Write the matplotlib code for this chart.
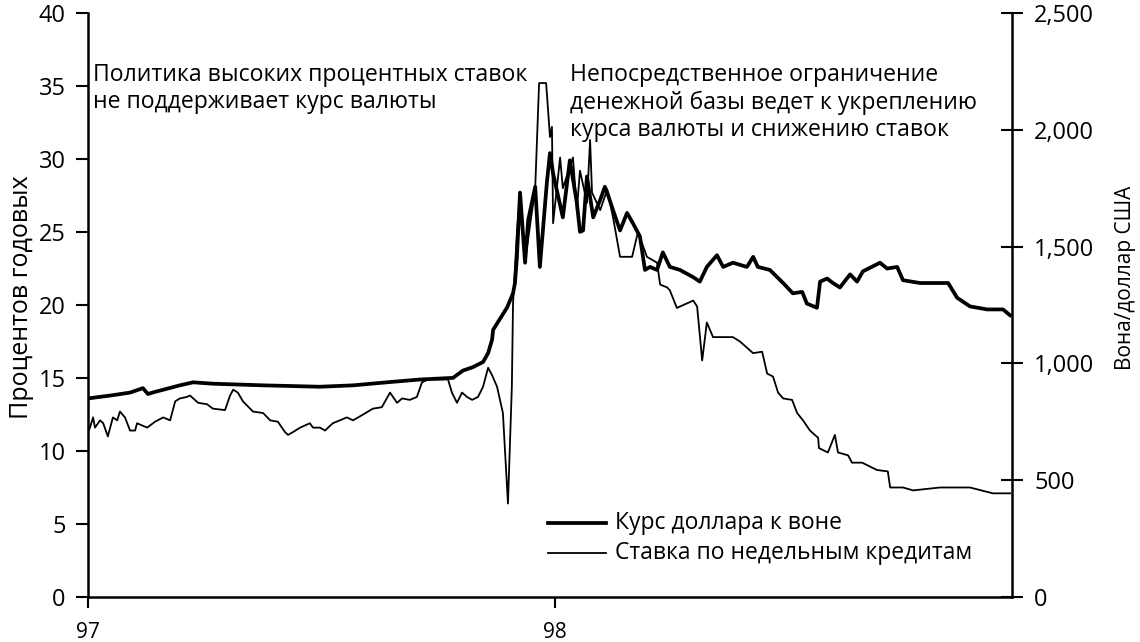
import matplotlib
matplotlib.use("Agg")
import matplotlib.pyplot as plt

plt.rcParams['font.family'] = ['Open Sans', 'DejaVu Sans']

# Months since January 1997
rate_months = [0.00, 0.05, 0.13, 0.18, 0.31, 0.39, 0.51, 0.64, 0.75, 0.82, 0.95, 1.08, 1.21, 1.26,
               1.52, 1.72, 1.93, 2.11, 2.24, 2.36, 2.54, 2.62, 2.83, 3.06, 3.21, 3.52, 3.65, 3.73,
               3.85, 3.98, 4.24, 4.50, 4.68, 4.88, 5.06, 5.14, 5.27, 5.45, 5.70, 5.78, 5.96, 6.09,
               6.29, 6.65, 6.81, 7.07, 7.32, 7.55, 7.76, 7.94, 8.07, 8.27, 8.45, 8.58, 8.74, 9.25,
               9.35, 9.48, 9.61, 9.74, 9.87, 10.02, 10.15, 10.28, 10.38, 10.51, 10.66, 10.79, 10.89,
               10.92, 11.02, 11.10, 11.23, 11.36, 11.49, 11.59, 11.77, 11.87, 11.92, 11.95, 12.13,
               12.20, 12.46, 12.56, 12.64, 12.82, 12.90, 12.95, 13.16, 13.34, 13.49, 13.67, 13.98,
               14.13, 14.36, 14.62, 14.70, 14.88, 14.95, 15.13, 15.55, 15.65, 15.78, 15.90, 16.06,
               16.57, 16.75, 17.09, 17.32, 17.45, 17.60, 17.73, 17.86, 18.09, 18.22, 18.37, 18.55,
               18.76, 18.78, 19.01, 19.19, 19.27, 19.53, 19.63, 19.89, 20.27, 20.55, 20.61, 20.94,
               21.20, 21.89, 22.66, 23.25, 23.69]
rate_values = [11.3, 11.6, 12.3, 11.6, 12.1, 11.9, 11.0, 12.3, 12.1, 12.7, 12.3, 11.4, 11.4, 11.9,
               11.6, 12.0, 12.3, 12.1, 13.4, 13.6, 13.7, 13.8, 13.3, 13.2, 12.9, 12.8, 13.8, 14.2,
               14.0, 13.4, 12.7, 12.6, 12.1, 12.0, 11.3, 11.1, 11.3, 11.6, 11.9, 11.6, 11.6, 11.4,
               11.9, 12.3, 12.1, 12.5, 12.9, 13.0, 14.0, 13.3, 13.6, 13.5, 13.7, 14.7, 14.9, 14.9,
               14.0, 13.3, 14.0, 13.7, 13.5, 13.7, 14.4, 15.7, 15.2, 14.4, 12.6, 6.4, 14.4,
               20.1, 25.0, 27.5, 23.0, 25.5, 28.0, 35.2, 35.2, 31.5, 32.2, 25.6, 30.1,
               28.0, 30.1, 26.5, 29.2, 27.0, 31.3, 27.7, 26.5, 27.9, 26.0, 23.3, 23.3,
               25.0, 23.3, 22.9, 21.4, 21.2, 21.0, 19.8, 20.3, 19.9, 16.2, 18.8, 17.8,
               17.8, 17.5, 16.7, 16.8, 15.3, 15.1, 14.0, 13.6, 13.5, 12.6, 12.1, 11.4,
               10.9, 10.2, 9.9, 11.1, 9.9, 9.7, 9.2, 9.2, 8.7, 8.6, 7.5, 7.5,
               7.3, 7.5, 7.5, 7.1, 7.1]

fx_months = [0.00, 0.60, 1.08, 1.41, 1.54, 1.72, 2.36, 2.70, 3.21, 4.50, 5.96, 6.81, 7.68, 8.53,
             9.38, 9.63, 9.89, 10.15, 10.28, 10.38, 10.41, 10.77, 10.92, 10.97, 11.02, 11.10,
             11.23, 11.31, 11.49, 11.61, 11.79, 11.87, 11.95, 12.20, 12.38, 12.56, 12.64, 12.72,
             12.82, 12.98, 13.16, 13.28, 13.34, 13.49, 13.67, 13.85, 14.00, 14.18, 14.31, 14.44,
             14.62, 14.77, 14.95, 15.21, 15.55, 15.72, 15.90, 16.16, 16.32, 16.57, 16.93, 17.09,
             17.21, 17.52, 17.86, 18.11, 18.35, 18.47, 18.73, 18.81, 18.99, 19.14, 19.32, 19.58,
             19.76, 19.91, 20.35, 20.53, 20.79, 20.94, 21.38, 22.10, 22.33, 22.66, 23.10, 23.51,
             23.69]
fx_values = [850, 863, 875, 894, 869, 878, 906, 919, 913, 906, 900, 906, 919, 931,
             938, 969, 984, 1006, 1044, 1100, 1144, 1240, 1300, 1344, 1456, 1731,
             1431, 1613, 1756, 1413, 1775, 1900, 1813, 1625, 1869, 1688, 1563, 1569,
             1800, 1625, 1700, 1756, 1731, 1656, 1569, 1644, 1600, 1544, 1400, 1413,
             1400, 1475, 1413, 1400, 1369, 1350, 1413, 1463, 1413, 1431, 1413, 1456,
             1413, 1400, 1344, 1300, 1306, 1256, 1238, 1350, 1363, 1344, 1325, 1381,
             1350, 1394, 1431, 1406, 1413, 1356, 1344, 1344, 1281, 1244, 1231, 1231,
             1206]

x_tick_pos = [0, 12]
x_tick_labels = ["97", "98"]
left_ticks = [0, 5, 10, 15, 20, 25, 30, 35, 40]
right_ticks = [0, 500, 1000, 1500, 2000, 2500]
right_tick_labels = ["0", "500", "1,000", "1,500", "2,000", "2,500"]

fig = plt.figure(figsize=(11.4, 6.42), dpi=100)
ax = fig.add_axes([0.0772, 0.0701, 0.8105, 0.9097])
ax2 = ax.twinx()

ax.set_xlim(0, 23.74)
ax.set_ylim(0, 40)
ax2.set_ylim(0, 2500)

ax.plot(rate_months, rate_values, color='black', lw=1.3)
ax2.plot(fx_months, fx_values, color='black', lw=2.7)

for a in (ax, ax2):
    a.spines['top'].set_visible(False)
    for s in a.spines.values():
        s.set_linewidth(1.8)
ax.spines['right'].set_visible(False)
ax2.spines['left'].set_visible(False)
ax2.spines['bottom'].set_visible(False)

ax.set_yticks(left_ticks)
ax.tick_params(axis='y', direction='out', length=9, width=1.5, labelsize=17, pad=7)
ax.set_xticks(x_tick_pos)
ax.set_xticklabels(x_tick_labels)
ax.tick_params(axis='x', direction='out', length=8, width=1.5, labelsize=15, pad=10)
ax2.set_yticks(right_ticks)
ax2.set_yticklabels(right_tick_labels)
ax2.tick_params(axis='y', direction='inout', length=16, width=1.5, labelsize=17, pad=8)

ax.set_ylabel("Процентов годовых", fontsize=18)
ax.yaxis.set_label_coords(-0.058, 0.514)
ax2.set_ylabel("Вона/доллар США", fontsize=15)
ax2.yaxis.set_label_coords(1.111, 0.546)

ax.text(0.13, 36.6, "Политика высоких процентных ставок\nне поддерживает курс валюты",
        fontsize=16.6, va='top', ha='left', linespacing=1.2)
ax.text(12.38, 36.6, "Непосредственное ограничение\nденежной базы ведет к укреплению\nкурса валюты и снижению ставок",
        fontsize=16.6, va='top', ha='left', linespacing=1.2)

leg_x = [11.83, 13.3]
ax.plot(leg_x, [5.1, 5.1], color='black', lw=2.7)
ax.plot(leg_x, [3.0, 3.0], color='black', lw=1.3)
ax.text(13.55, 5.1, "Курс доллара к воне", fontsize=16.5, va='center', ha='left')
ax.text(13.55, 3.0, "Ставка по недельным кредитам", fontsize=16.5, va='center', ha='left')

fig.savefig("out.png", dpi=100)
